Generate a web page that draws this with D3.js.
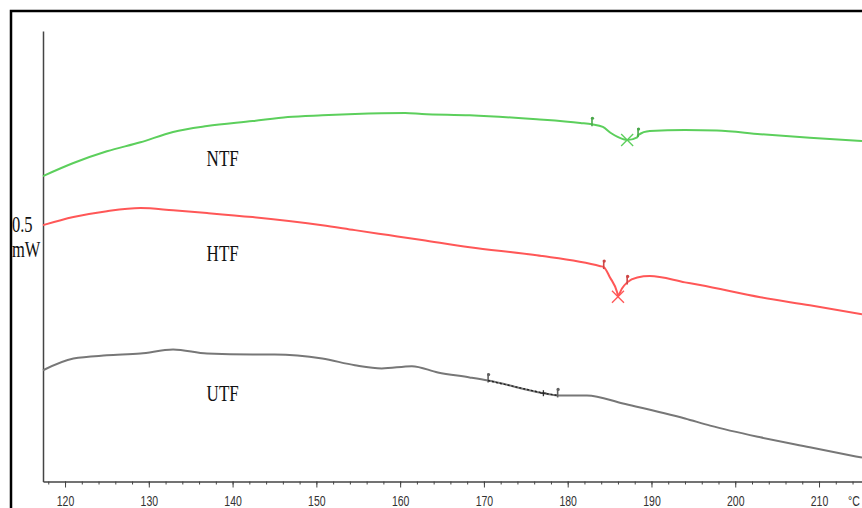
<!DOCTYPE html>
<html>
<head>
<meta charset="utf-8">
<script src="https://cdn.jsdelivr.net/npm/d3@7"></script>
<style>
  html, body { margin: 0; padding: 0; background: #fff; }
  svg { display: block; }
</style>
</head>
<body>
<svg id="chart" width="862" height="508"></svg>
<script>
// ---- Data (temperature °C, heat flow in arbitrary units) ----
const majorTicks = [120, 130, 140, 150, 160, 170, 180, 190, 200, 210];
const minorTicks = d3.range(118, 216, 2);

const ntf = [
  [117.37, 6.78], [121.0, 7.07], [125.0, 7.33], [129.0, 7.53], [132.9, 7.76],
  [136.95, 7.89], [142.4, 8.00], [146.6, 8.09], [150.7, 8.13], [154.6, 8.16],
  [160.6, 8.18], [162.6, 8.16], [168.3, 8.13], [176.3, 8.04], [181.5, 7.96],
  [182.9, 7.93], [184.2, 7.87], [185.2, 7.73], [186.6, 7.60], [187.1, 7.58],
  [188.3, 7.64], [188.4, 7.69], [189.8, 7.78], [194.0, 7.80], [197.8, 7.79],
  [203.0, 7.71], [208.9, 7.63], [215.13, 7.56]
];
const htf = [
  [117.37, 5.69], [121.0, 5.87], [125.0, 6.00], [129.0, 6.07], [132.9, 6.02],
  [136.95, 5.96], [142.4, 5.87], [150.7, 5.69], [154.6, 5.58], [158.6, 5.47],
  [162.6, 5.36], [168.3, 5.20], [176.3, 5.02], [183.9, 4.78], [184.3, 4.76],
  [185.05, 4.53], [185.9, 4.20], [186.0, 4.13], [186.5, 4.29], [187.1, 4.42],
  [188.3, 4.53], [189.8, 4.56], [194.0, 4.42], [195.8, 4.36], [203.0, 4.09],
  [208.9, 3.91], [215.13, 3.71]
];
const utf = [
  [117.37, 2.47], [121.0, 2.73], [125.0, 2.80], [129.0, 2.84], [132.9, 2.93],
  [136.95, 2.84], [142.4, 2.82], [145.0, 2.82], [150.7, 2.73], [154.6, 2.58],
  [157.8, 2.51], [161.4, 2.56], [164.5, 2.42], [168.3, 2.31], [170.5, 2.24],
  [177.1, 1.96], [178.8, 1.91], [182.3, 1.91], [186.6, 1.73], [194.0, 1.40],
  [197.0, 1.24], [203.0, 0.98], [208.9, 0.76], [215.13, 0.53]
];

// markers: onset/endset flags and peak crosses
const ntfFlags = [[182.9, 7.93], [188.4, 7.69]];
const ntfPeak  = [[187.1, 7.58]];
const htfFlags = [[184.3, 4.76], [187.1, 4.42]];
const htfPeak  = [[186.0, 4.10]];
const utfFlags = [[170.5, 2.24], [178.8, 1.91]];
const utfBase  = [[170.5, 2.24], [177.1, 1.96], [178.8, 1.91]];
const utfPeak  = [[177.1, 1.96]];

const series = [
  { name: "NTF", data: ntf, color: "#5ccf5c", flags: ntfFlags, peak: ntfPeak, label: [136.9, 7.0] },
  { name: "HTF", data: htf, color: "#ff5757", flags: htfFlags, peak: htfPeak, label: [136.9, 4.9] },
  { name: "UTF", data: utf, color: "#777777", flags: utfFlags, peak: utfPeak, label: [136.9, 1.79] }
];

// ---- Layout ----
const svg = d3.select("#chart");
const x = d3.scaleLinear().domain([117.37, 215.13]).range([43, 862]);
const y = d3.scaleLinear().domain([0, 10]).range([481.5, 31]);

// outer frame
svg.append("rect")
  .attr("x", 11).attr("y", 11).attr("width", 1000).attr("height", 1000)
  .attr("fill", "none").attr("stroke", "#000").attr("stroke-width", 2.5);

// y axis (bare line)
svg.append("g")
  .attr("transform", `translate(${x.range()[0]},0)`)
  .call(d3.axisLeft(y).tickValues([]).tickSizeOuter(0))
  .call(g => g.select(".domain").attr("stroke", "#444").attr("stroke-width", 1.5));

// x axis minor ticks
svg.append("g")
  .attr("transform", `translate(0,${y(0)})`)
  .call(d3.axisBottom(x).tickValues(minorTicks).tickSize(3).tickSizeOuter(0).tickFormat(""))
  .call(g => g.select(".domain").attr("stroke", "#444").attr("stroke-width", 1.5))
  .call(g => g.selectAll(".tick line").attr("stroke", "#444"));

// x axis major ticks + labels
svg.append("g")
  .attr("transform", `translate(0,${y(0)})`)
  .call(d3.axisBottom(x).tickValues(majorTicks).tickSize(6).tickSizeOuter(0).tickFormat(d3.format("d")))
  .call(g => g.select(".domain").remove())
  .call(g => g.selectAll(".tick line").attr("stroke", "#444"))
  .call(g => g.selectAll(".tick text")
    .attr("y", 0).attr("dy", 0)
    .attr("transform", "translate(0,24.5) scale(1,1.35)")
    .attr("fill", "#333")
    .style("font-family", "'Liberation Sans', Arial, sans-serif")
    .style("font-size", "10.5px"));

// unit label
svg.append("text")
  .attr("transform", "translate(848,506) scale(1,1.35)")
  .attr("fill", "#333")
  .style("font-family", "'Liberation Sans', Arial, sans-serif")
  .style("font-size", "10.5px")
  .text("°C");

// scale label
const serif = "'Liberation Serif', 'Times New Roman', serif";
svg.append("text")
  .attr("transform", "translate(12,232) scale(1,1.35)")
  .style("font-family", serif).style("font-size", "16.5px").attr("fill", "#111")
  .text("0.5");
svg.append("text")
  .attr("transform", "translate(12,257) scale(1,1.35)")
  .style("font-family", serif).style("font-size", "16.5px").attr("fill", "#111")
  .text("mW");

const line = d3.line().x(d => x(d[0])).y(d => y(d[1])).curve(d3.curveMonotoneX);

series.forEach(s => {
  svg.append("path")
    .datum(s.data)
    .attr("fill", "none")
    .attr("stroke", s.color)
    .attr("stroke-width", 2)
    .attr("stroke-linejoin", "round")
    .attr("d", line);

  // flags
  const fg = svg.append("g").attr("stroke", d3.color(s.color).darker(0.6)).attr("fill", d3.color(s.color).darker(0.6));
  s.flags.forEach(f => {
    const px = x(f[0]), py = y(f[1]);
    fg.append("line").attr("x1", px).attr("x2", px).attr("y1", py - 7).attr("y2", py + 2).attr("stroke-width", 1.6);
    fg.append("circle").attr("cx", px + 0.5).attr("cy", py - 6).attr("r", 1.6).attr("stroke", "none");
  });

  // peak crosses
  s.peak.forEach(p => {
    const px = x(p[0]), py = y(p[1]);
    const r = s.name === "UTF" ? 3 : 6;
    const pg = svg.append("g").attr("stroke", s.color).attr("stroke-width", 1.3);
    if (s.name === "UTF") {
      pg.attr("stroke", "#333");
      pg.append("line").attr("x1", px - r).attr("x2", px + r).attr("y1", py).attr("y2", py);
      pg.append("line").attr("x1", px).attr("x2", px).attr("y1", py - r).attr("y2", py + r);
    } else {
      pg.append("line").attr("x1", px - r).attr("x2", px + r).attr("y1", py - r).attr("y2", py + r);
      pg.append("line").attr("x1", px - r).attr("x2", px + r).attr("y1", py + r).attr("y2", py - r);
    }
  });

  // curve name
  svg.append("text")
    .attr("transform", `translate(${x(s.label[0])},${y(s.label[1])}) scale(1,1.35)`)
    .style("font-family", serif).style("font-size", "17px").attr("fill", "#111")
    .text(s.name);
});

// UTF dashed baseline segment
svg.append("path")
  .datum(utfBase)
  .attr("fill", "none")
  .attr("stroke", "#222")
  .attr("stroke-width", 1.4)
  .attr("stroke-dasharray", "2,2")
  .attr("d", d3.line().x(d => x(d[0])).y(d => y(d[1])));
</script>
</body>
</html>
